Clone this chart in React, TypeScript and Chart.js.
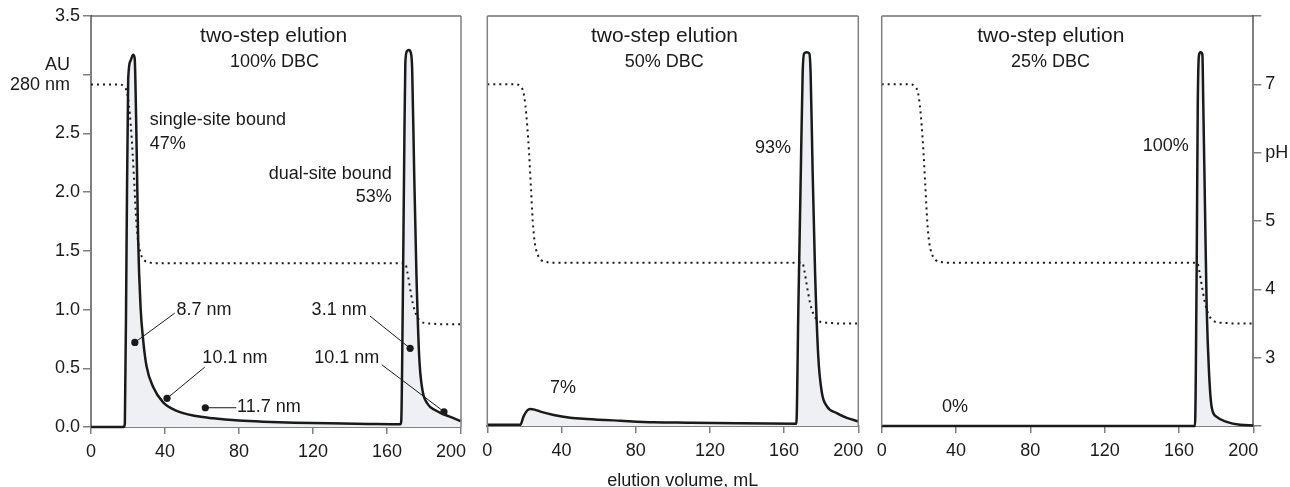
import React, { useEffect, useRef } from "react";
import { Chart, registerables } from "chart.js";
Chart.register(...registerables);

const FONT = "'Liberation Sans', Arial, Helvetica, sans-serif";
const INK = "#1a1a1a";
const AXIS = "#808080";
const FILL = "rgb(238,240,243)";

// tick values
const volumeTicks = [0, 40, 80, 120, 160, 200];
const auTicks = [0, 0.5, 1, 1.5, 2, 2.5, 3, 3.5];
const phTicks = [2, 3, 4, 5, 6, 7, 8];

// 100% DBC panel (elution volume mL, absorbance AU)
const vol100 = [0, 17.6, 18.3, 19.2, 20.1, 21.4, 22.8, 23.6, 24.6, 25.5, 26.8, 28.2, 30.0, 33.6, 39, 46, 56, 66, 80, 93, 110, 129, 150, 167.2, 167.7, 168.5, 169.3, 169.9, 170.8, 171.8, 172.8, 173.6, 174.7, 175.9, 177.4, 179.1, 181.8, 186.4, 193.5, 200];
const au100 = [0, 0, 0.03, 1.5, 2.96, 3.12, 3.17, 3.14, 2.44, 1.59, 1.02, 0.74, 0.52, 0.34, 0.21, 0.14, 0.095, 0.074, 0.055, 0.045, 0.037, 0.031, 0.026, 0.023, 0.05, 1.0, 2.3, 3.1, 3.2, 3.21, 3.19, 3.05, 2.16, 1.31, 0.60, 0.32, 0.20, 0.14, 0.09, 0.05];

// 50% DBC panel
const vol50 = [0, 17.8, 19.5, 21.4, 23.2, 25.5, 28.6, 35.8, 44.7, 53.7, 71.9, 89.9, 107.8, 134.8, 166.6, 167.7, 169.0, 170.0, 170.8, 172.2, 173.6, 174.3, 175.4, 176.7, 178.4, 180.3, 183.0, 188.4, 193.8, 200];
const au50 = [0.01, 0.01, 0.08, 0.13, 0.145, 0.14, 0.123, 0.094, 0.071, 0.06, 0.045, 0.032, 0.028, 0.023, 0.02, 1.02, 2.16, 3.01, 3.18, 3.19, 3.18, 3.01, 2.16, 1.31, 0.60, 0.29, 0.17, 0.11, 0.07, 0.04];

// 25% DBC panel
const vol25 = [0, 168.6, 169.5, 170.1, 170.8, 171.7, 172.6, 173.1, 174.0, 174.9, 176.2, 177.6, 180.3, 185.7, 192.8, 200];
const au25 = [0, 0, 1.30, 2.73, 3.17, 3.19, 3.17, 2.73, 1.87, 1.02, 0.45, 0.16, 0.078, 0.035, 0.01, 0.005];

// pH profile (two-step elution)
const phVolume = [0, 15, 18, 19.5, 20.5, 21.5, 22.5, 23.5, 24.5, 25.5, 27, 29, 32, 35, 169.8, 171, 172, 173, 174, 175, 176.5, 178, 180, 184, 190, 200];
const phValue = [7.0, 7.0, 6.97, 6.88, 6.7, 6.4, 6.0, 5.5, 5.0, 4.7, 4.52, 4.43, 4.40, 4.39, 4.39, 4.26, 4.10, 3.94, 3.80, 3.70, 3.60, 3.55, 3.52, 3.51, 3.50, 3.50];

// hydrodynamic size markers (100% DBC panel)
const sizeDotVolume = [23.7, 41.1, 61.8, 172.5, 190.8];
const sizeDotAU = [0.72, 0.244, 0.164, 0.67, 0.13];
const sizeLabels = ["8.7 nm", "10.1 nm", "11.7 nm", "3.1 nm", "10.1 nm"];

const panelSubtitles = ["100% DBC", "50% DBC", "25% DBC"];

type Note = { text: string; x: number; y: number; align?: CanvasTextAlign; size?: number };
type Lead = { x1: number; y1: number; x2: number; y2: number };

const pts = (xs: number[], ys: number[]) => xs.map((x, i) => ({ x, y: ys[i] }));

function makePlugin(notes: Note[], leads: Lead[], frame: { left: boolean; right: boolean }, caption?: string) {
  return {
    id: "notes",
    afterDraw(chart: any) {
      const { ctx, chartArea } = chart;
      const xs = chart.scales.x;
      const ys = chart.scales.y;
      ctx.save();
      // frame
      ctx.strokeStyle = "#2a2a2a";
      ctx.lineWidth = 1.2;
      ctx.beginPath();
      ctx.moveTo(chartArea.left, chartArea.top);
      ctx.lineTo(chartArea.right, chartArea.top);
      ctx.stroke();
      ctx.strokeStyle = AXIS;
      ctx.lineWidth = 1.5;
      if (frame.left) {
        ctx.beginPath();
        ctx.moveTo(chartArea.left, chartArea.top);
        ctx.lineTo(chartArea.left, chartArea.bottom);
        ctx.stroke();
      }
      if (frame.right) {
        ctx.beginPath();
        ctx.moveTo(chartArea.right, chartArea.top);
        ctx.lineTo(chartArea.right, chartArea.bottom);
        ctx.stroke();
      }
      // leaders
      ctx.strokeStyle = INK;
      ctx.lineWidth = 1;
      leads.forEach((l) => {
        ctx.beginPath();
        ctx.moveTo(xs.getPixelForValue(l.x1), ys.getPixelForValue(l.y1));
        ctx.lineTo(xs.getPixelForValue(l.x2), ys.getPixelForValue(l.y2));
        ctx.stroke();
      });
      // texts
      ctx.fillStyle = INK;
      ctx.textBaseline = "middle";
      notes.forEach((n) => {
        ctx.font = `${n.size || 18}px ${FONT}`;
        ctx.textAlign = n.align || "center";
        ctx.fillText(n.text, xs.getPixelForValue(n.x), ys.getPixelForValue(n.y));
      });
      if (caption) {
        ctx.font = `18px ${FONT}`;
        ctx.textAlign = "center";
        ctx.fillText(caption, (chartArea.left + chartArea.right) / 2 + 10, chartArea.bottom + 55);
      }
      ctx.restore();
    },
  };
}

const xScale = (h: number) => ({
  type: "linear",
  min: 0,
  max: 200,
  afterBuildTicks: (s: any) => {
    s.ticks = volumeTicks.map((v) => ({ value: v }));
  },
  afterFit: (s: any) => {
    s.height = h;
    s.paddingLeft = 0;
    s.paddingRight = 0;
  },
  ticks: {
    font: { family: FONT, size: 18 },
    color: INK,
    padding: 7,
    maxRotation: 0,
    autoSkip: false,
    // the last label sits slightly left of its tick, as in the original figure
    callback: (v: any) => (Number(v) === 200 ? "200    " : String(v)),
  },
  grid: { drawOnChartArea: false, drawTicks: true, tickLength: 7, color: AXIS, lineWidth: 1.5 },
  border: { display: true, color: AXIS, width: 2 },
});

const auDataset = (xs: number[], ys: number[]) => ({
  type: "line",
  data: pts(xs, ys),
  yAxisID: "y",
  borderColor: INK,
  borderWidth: 2.5,
  backgroundColor: FILL,
  fill: "origin",
  pointRadius: 0,
  cubicInterpolationMode: "monotone",
  borderJoinStyle: "round",
  clip: false,
});

const phDataset = () => ({
  type: "line",
  data: pts(phVolume, phValue),
  yAxisID: "ph",
  borderColor: INK,
  borderWidth: 2,
  borderDash: [2, 4],
  fill: false,
  pointRadius: 0,
  cubicInterpolationMode: "monotone",
});

const baseOptions = (padding: any, scales: any) => ({
  responsive: false,
  animation: false,
  devicePixelRatio: 1,
  layout: { padding },
  plugins: { legend: { display: false }, tooltip: { enabled: false } },
  events: [],
  scales,
});

function buildA() {
  const notes: Note[] = [
    { text: "two-step elution", x: 98.7, y: 3.33, size: 21 },
    { text: panelSubtitles[0], x: 99.2, y: 3.11 },
    { text: "single-site bound", x: 31.8, y: 2.61, align: "left" },
    { text: "47%", x: 31.8, y: 2.41, align: "left" },
    { text: "dual-site bound", x: 162.6, y: 2.15, align: "right" },
    { text: "53%", x: 162.6, y: 1.96, align: "right" },
    { text: sizeLabels[0], x: 46.2, y: 1.0, align: "left" },
    { text: sizeLabels[1], x: 60.2, y: 0.585, align: "left" },
    { text: sizeLabels[2], x: 78.9, y: 0.17, align: "left" },
    { text: sizeLabels[3], x: 149, y: 1.0, align: "right" },
    { text: sizeLabels[4], x: 155.8, y: 0.59, align: "right" },
  ];
  const leadEnds = [
    { x: 45.3, y: 0.97 },
    { x: 61.5, y: 0.51 },
    { x: 78.5, y: 0.164 },
    { x: 150.8, y: 0.945 },
    { x: 157.2, y: 0.53 },
  ];
  const leads: Lead[] = leadEnds.map((e, i) => ({ x1: sizeDotVolume[i], y1: sizeDotAU[i], x2: e.x, y2: e.y }));
  return {
    type: "line",
    data: {
      datasets: [
        {
          type: "scatter",
          data: pts(sizeDotVolume, sizeDotAU),
          yAxisID: "y",
          pointRadius: 3.6,
          pointBackgroundColor: INK,
          pointBorderWidth: 0,
          showLine: false,
        },
        phDataset(),
        auDataset(vol100, au100),
      ],
    },
    options: baseOptions({ left: 0, right: 19, top: 16, bottom: 0 }, {
      x: xScale(60),
      y: {
        type: "linear",
        position: "left",
        min: 0,
        max: 3.5,
        afterBuildTicks: (s: any) => {
          s.ticks = auTicks.map((v) => ({ value: v }));
        },
        afterFit: (s: any) => {
          s.width = 91;
        },
        ticks: {
          font: { family: FONT, size: 18, lineHeight: 1.1 },
          color: INK,
          padding: 3,
          callback: (v: any) => (Number(v) === 3 ? ["AU  ", "280 nm  "] : Number(v).toFixed(1)),
        },
        grid: { drawOnChartArea: false, drawTicks: true, tickLength: 8, color: AXIS, lineWidth: 1.5 },
        border: { display: true, color: AXIS, width: 2 },
      },
      ph: { type: "linear", display: false, position: "right", min: 2, max: 8 },
    }),
    plugins: [makePlugin(notes, leads, { left: false, right: true })],
  };
}

function buildB() {
  const notes: Note[] = [
    { text: "two-step elution", x: 95.5, y: 3.33, size: 21 },
    { text: panelSubtitles[1], x: 95.4, y: 3.11 },
    { text: "93%", x: 154, y: 2.37 },
    { text: "7%", x: 40.8, y: 0.32 },
  ];
  return {
    type: "line",
    data: { datasets: [phDataset(), auDataset(vol50, au50)] },
    options: baseOptions({ left: 17.3, right: 16.7, top: 16, bottom: 0 }, {
      x: xScale(61),
      y: { type: "linear", display: false, position: "left", min: 0, max: 3.5 },
      ph: { type: "linear", display: false, position: "right", min: 2, max: 8 },
    }),
    plugins: [makePlugin(notes, [], { left: true, right: true }, "elution volume, mL")],
  };
}

function buildC() {
  const notes: Note[] = [
    { text: "two-step elution", x: 91, y: 3.33, size: 21 },
    { text: panelSubtitles[2], x: 90.9, y: 3.11 },
    { text: "100%", x: 152.9, y: 2.39 },
    { text: "0%", x: 39.5, y: 0.165 },
  ];
  return {
    type: "line",
    data: { datasets: [phDataset(), auDataset(vol25, au25)] },
    options: baseOptions({ left: 11.7, right: 0, top: 16, bottom: 0 }, {
      x: xScale(61),
      y: { type: "linear", display: false, position: "left", min: 0, max: 3.5 },
      ph: {
        type: "linear",
        position: "right",
        min: 2,
        max: 8,
        afterBuildTicks: (s: any) => {
          s.ticks = phTicks.map((v) => ({ value: v }));
        },
        afterFit: (s: any) => {
          s.width = 36.7;
        },
        ticks: {
          font: { family: FONT, size: 18 },
          color: INK,
          padding: 4,
          callback: (v: any) => {
            const n = Number(v);
            if (n === 2 || n === 8) return "";
            if (n === 6) return "pH";
            return String(n);
          },
        },
        grid: { drawOnChartArea: false, drawTicks: true, tickLength: 8, color: AXIS, lineWidth: 1.5 },
        border: { display: true, color: AXIS, width: 2 },
      },
    }),
    plugins: [makePlugin(notes, [], { left: true, right: false })],
  };
}

function Panel({ left, width, build }: { left: number; width: number; build: () => any }) {
  const ref = useRef<HTMLCanvasElement>(null);
  useEffect(() => {
    const chart = new Chart(ref.current as HTMLCanvasElement, build());
    return () => chart.destroy();
  }, []);
  return (
    <canvas
      ref={ref}
      width={width}
      height={487}
      style={{ position: "absolute", left, top: 0, width, height: 487 }}
    />
  );
}

export default function App() {
  return (
    <div style={{ position: "absolute", left: 0, top: 0, width: 1290, height: 487, background: "#fff", overflow: "hidden" }}>
      <Panel left={0} width={480} build={buildA} />
      <Panel left={470} width={405} build={buildB} />
      <Panel left={870} width={420} build={buildC} />
    </div>
  );
}
